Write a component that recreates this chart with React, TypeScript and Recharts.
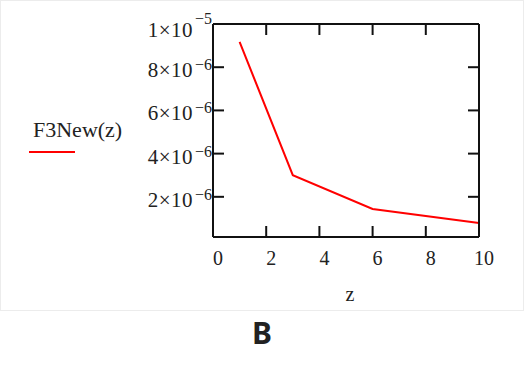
import React from 'react';
import { LineChart, Line, XAxis, YAxis } from 'recharts';

const zValues = [1, 3, 6, 10];
const f3Values = [9.17e-6, 3.0e-6, 1.44e-6, 0.79e-6];
const xTicks = [0, 2, 4, 6, 8, 10];
const yTicks = [2e-6, 4e-6, 6e-6, 8e-6, 1e-5];
const yTickLabels = [
  { mant: '2', exp: '−6' },
  { mant: '4', exp: '−6' },
  { mant: '6', exp: '−6' },
  { mant: '8', exp: '−6' },
  { mant: '1', exp: '−5' },
];
const seriesName = 'F3New(z)';
const xLabel = 'z';
const panelLabel = 'B';

const data = zValues.map((z, i) => ({ z, f3: f3Values[i] }));

const SERIF = '"Liberation Serif", "Times New Roman", serif';

const YTick = (props: any) => {
  const { x, y, index } = props;
  const lab = yTickLabels[index] || { mant: '', exp: '' };
  const isTop = index === yTickLabels.length - 1;
  const dy = isTop ? 13 : 10;
  const sup = isTop ? -13 : -7;
  return (
    <text x={x} y={y + dy} textAnchor="end" fontFamily={SERIF} fill="#222">
      <tspan fontSize={21} letterSpacing={0.5}>{lab.mant}×10</tspan>
      <tspan fontSize={16} dx={2} dy={sup}>{lab.exp}</tspan>
    </text>
  );
};

const XTick = (props: any) => {
  const { x, y, payload } = props;
  return (
    <text x={x + 5} y={y + 15} textAnchor="middle" fontFamily={SERIF} fontSize={20} fill="#222">
      {payload.value}
    </text>
  );
};

export default function App() {
  return (
    <div style={{ position: 'absolute', left: 0, top: 0, width: 524, height: 367, background: '#fff' }}>
      <div
        style={{
          position: 'absolute',
          left: 0,
          top: 0,
          width: 522,
          height: 309,
          border: '1px solid #ececec',
        }}
      />
      <div style={{ position: 'absolute', left: 0, top: 0 }}>
        <LineChart width={524} height={367} data={data} margin={{ top: 23, right: 44, bottom: 60, left: 0 }}>
          <XAxis
            xAxisId="b"
            dataKey="z"
            type="number"
            domain={[0, 10]}
            ticks={xTicks}
            height={70}
            tickSize={-11}
            tickMargin={24}
            stroke="#111"
            strokeWidth={2}
            tickLine={{ stroke: '#111', strokeWidth: 2 }}
            tick={<XTick />}
            label={{ value: xLabel, position: 'insideBottom', offset: 6, dx: 4, fontFamily: SERIF, fontSize: 20, fill: '#222' }}
          />
          <XAxis
            xAxisId="t"
            orientation="top"
            dataKey="z"
            type="number"
            domain={[0, 10]}
            ticks={xTicks}
            height={1}
            tickSize={-11}
            stroke="#111"
            strokeWidth={2}
            tickLine={{ stroke: '#111', strokeWidth: 2 }}
            tickFormatter={() => ''}
          />
          <YAxis
            yAxisId="l"
            type="number"
            domain={[0.14e-6, 1e-5]}
            ticks={yTicks}
            width={213}
            tickSize={-11}
            tickMargin={12}
            stroke="#111"
            strokeWidth={2}
            tickLine={{ stroke: '#111', strokeWidth: 2 }}
            tick={<YTick />}
            allowDataOverflow
          />
          <YAxis
            yAxisId="r"
            orientation="right"
            type="number"
            domain={[0.14e-6, 1e-5]}
            ticks={yTicks}
            width={1}
            tickSize={-11}
            stroke="#111"
            strokeWidth={2}
            tickLine={{ stroke: '#111', strokeWidth: 2 }}
            tickFormatter={() => ''}
            allowDataOverflow
          />
          <Line
            xAxisId="b"
            yAxisId="l"
            dataKey="f3"
            stroke="#ff0000"
            strokeWidth={2}
            dot={false}
            isAnimationActive={false}
          />
        </LineChart>
      </div>
      <div
        style={{
          position: 'absolute',
          left: 33,
          top: 118,
          fontFamily: SERIF,
          fontSize: 22,
          color: '#222',
          whiteSpace: 'nowrap',
          lineHeight: '24px',
        }}
      >
        {seriesName}
      </div>
      <div style={{ position: 'absolute', left: 29, top: 151, width: 46, height: 2, background: '#ff0000' }} />
      <div
        style={{
          position: 'absolute',
          left: 212,
          top: 315,
          width: 100,
          textAlign: 'center',
          fontFamily: '"Noto Sans", sans-serif',
          fontWeight: 700,
          fontSize: 30,
          lineHeight: '36px',
          color: '#222',
        }}
      >
        {panelLabel}
      </div>
    </div>
  );
}
